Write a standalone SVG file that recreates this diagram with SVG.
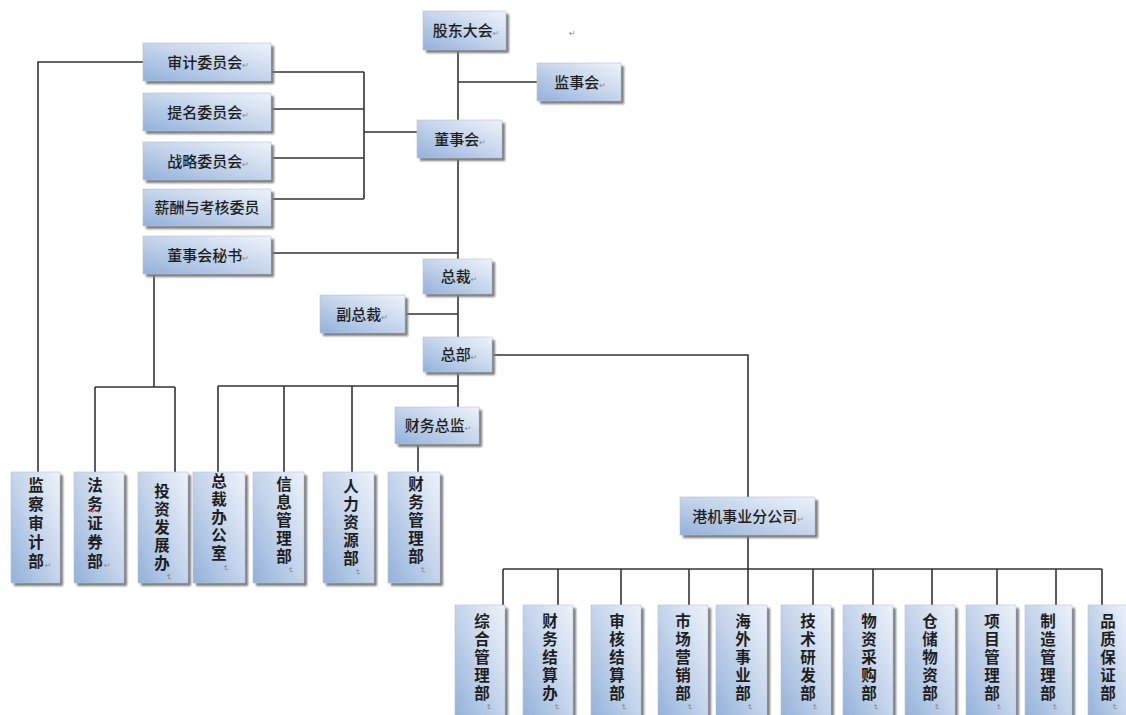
<svg xmlns="http://www.w3.org/2000/svg" width="1126" height="715" viewBox="0 0 1126 715">
<style>
.sh{fill:#7c7c7c}
.bx{fill:url(#g);stroke:#b3c4dc;stroke-width:0.6}
.t{font-family:"Noto Sans CJK SC","DejaVu Sans",sans-serif;font-size:15px;fill:#1e1e1e;font-weight:500;text-anchor:middle}
.v{font-family:"Noto Sans CJK SC","DejaVu Sans",sans-serif;font-size:15.5px;fill:#1e1e1e;font-weight:600;text-anchor:middle}
.m{font-family:"DejaVu Sans",sans-serif;font-size:8px;fill:#8a8a8a;font-weight:400}
.ln{stroke:#333;stroke-width:1.6;fill:none}
</style>
<defs>
<linearGradient id="g" x1="0" y1="1" x2="1" y2="0">
<stop offset="0" stop-color="#92b1da"/>
<stop offset="0.5" stop-color="#c4d4eb"/>
<stop offset="1" stop-color="#eef3fa"/>
</linearGradient>
<filter id="b" x="-10%" y="-10%" width="130%" height="130%"><feGaussianBlur stdDeviation="0.8"/></filter>
</defs>
<rect width="1126" height="715" fill="#fff"/>

<g id="connectors">
<path class="ln" d="M458 50V120M458 82H537M458 158V259M271 253H458M458 294V337M405 314H458M458 372V407M218 386H458M218 386V472M284 386V472M352 386V472M418 444V472"/>
<path class="ln" d="M492 355H748V497M748 535V605M503 569H1102M503 569V605M558 569V605M621 569V605M689 569V605M813 569V605M873 569V605M932 569V605M997 569V605M1056 569V605M1102 569V605"/>
<path class="ln" d="M271 72H364M271 109H364M271 158H364M271 199H364M364 72V199M364 132H417M143 62H38V472M154 274V387M95 387H175M95 387V472M175 387V472"/>
</g>

<text class="m" x="569" y="36">↵</text>

<g id="gudong"><rect class="sh" x="426" y="14" width="83" height="39" filter="url(#b)"/><rect class="bx" x="423" y="11" width="83" height="39"/><text class="t" x="466" y="36">股东大会<tspan class="m">↵</tspan></text></g>
<g id="jianshi"><rect class="sh" x="540" y="66" width="84" height="38" filter="url(#b)"/><rect class="bx" x="537" y="63" width="84" height="38"/><text class="t" x="580" y="88">监事会<tspan class="m">↵</tspan></text></g>
<g id="dongshi"><rect class="sh" x="420" y="123" width="85" height="38" filter="url(#b)"/><rect class="bx" x="417" y="120" width="85" height="38"/><text class="t" x="460" y="145">董事会<tspan class="m">↵</tspan></text></g>

<g id="shenji"><rect class="sh" x="146" y="46" width="128" height="38" filter="url(#b)"/><rect class="bx" x="143" y="43" width="128" height="38"/><text class="t" x="208" y="68">审计委员会<tspan class="m">↵</tspan></text></g>
<g id="timing"><rect class="sh" x="146" y="96" width="128" height="38" filter="url(#b)"/><rect class="bx" x="143" y="93" width="128" height="38"/><text class="t" x="208" y="118">提名委员会<tspan class="m">↵</tspan></text></g>
<g id="zhanlue"><rect class="sh" x="146" y="145" width="128" height="38" filter="url(#b)"/><rect class="bx" x="143" y="142" width="128" height="38"/><text class="t" x="208" y="167">战略委员会<tspan class="m">↵</tspan></text></g>
<g id="xinchou"><rect class="sh" x="146" y="192" width="128" height="37" filter="url(#b)"/><rect class="bx" x="143" y="189" width="128" height="37"/><text class="t" x="207" y="213">薪酬与考核委员</text></g>
<g id="mishu"><rect class="sh" x="146" y="239" width="128" height="38" filter="url(#b)"/><rect class="bx" x="143" y="236" width="128" height="38"/><text class="t" x="208" y="261">董事会秘书<tspan class="m">↵</tspan></text></g>

<g id="zongcai"><rect class="sh" x="426" y="262" width="69" height="35" filter="url(#b)"/><rect class="bx" x="423" y="259" width="69" height="35"/><text class="t" x="459" y="282">总裁<tspan class="m">↵</tspan></text></g>
<g id="fuzongcai"><rect class="sh" x="323" y="298" width="85" height="38" filter="url(#b)"/><rect class="bx" x="320" y="295" width="85" height="38"/><text class="t" x="362" y="320">副总裁<tspan class="m">↵</tspan></text></g>
<g id="zongbu"><rect class="sh" x="426" y="340" width="69" height="35" filter="url(#b)"/><rect class="bx" x="423" y="337" width="69" height="35"/><text class="t" x="459" y="360">总部<tspan class="m">↵</tspan></text></g>
<g id="caiwuzongjian"><rect class="sh" x="398" y="410" width="84" height="37" filter="url(#b)"/><rect class="bx" x="395" y="407" width="84" height="37"/><text class="t" x="438" y="431">财务总监<tspan class="m">↵</tspan></text></g>
<g id="gangji"><rect class="sh" x="683" y="500" width="135" height="38" filter="url(#b)"/><rect class="bx" x="680" y="497" width="135" height="38"/><text class="t" x="748" y="522">港机事业分公司<tspan class="m">↵</tspan></text></g>

<!-- left bottom -->
<g id="jiancha"><rect class="sh" x="14" y="475" width="49" height="111" filter="url(#b)"/><rect class="bx" x="11" y="472" width="49" height="111"/><text class="v"><tspan x="36" y="491">监</tspan><tspan x="36" y="510">察</tspan><tspan x="36" y="529">审</tspan><tspan x="36" y="548">计</tspan><tspan x="36" y="567">部</tspan></text><text class="m" x="45" y="568">↵</text></g>
<g id="fawu"><rect class="sh" x="77" y="475" width="50" height="111" filter="url(#b)"/><rect class="bx" x="74" y="472" width="50" height="111"/><text class="v"><tspan x="95" y="491">法</tspan><tspan x="95" y="510">务</tspan><tspan x="95" y="529">证</tspan><tspan x="95" y="548">券</tspan><tspan x="95" y="567">部</tspan></text><text class="m" x="104" y="568">↵</text><path d="M88 511q1.5-2 3 0t3 0t3 0t3 0" stroke="#d02020" stroke-width="1" fill="none"/></g>
<g id="touzi"><rect class="sh" x="141" y="475" width="50" height="111" filter="url(#b)"/><rect class="bx" x="138" y="472" width="50" height="111"/><text class="v"><tspan x="162" y="497">投</tspan><tspan x="162" y="515">资</tspan><tspan x="162" y="533">发</tspan><tspan x="162" y="551">展</tspan><tspan x="162" y="569">办</tspan></text><text class="m" x="166" y="574" transform="rotate(90 166 574)">↵</text></g>
<g id="zongcaiban"><rect class="sh" x="196" y="475" width="52" height="111" filter="url(#b)"/><rect class="bx" x="193" y="472" width="52" height="111"/><text class="v"><tspan x="219" y="487">总</tspan><tspan x="219" y="505">裁</tspan><tspan x="219" y="523">办</tspan><tspan x="219" y="541">公</tspan><tspan x="219" y="559">室</tspan></text><text class="m" x="223" y="565" transform="rotate(90 223 565)">↵</text></g>
<g id="xinxi"><rect class="sh" x="256" y="475" width="51" height="111" filter="url(#b)"/><rect class="bx" x="253" y="472" width="51" height="111"/><text class="v"><tspan x="284" y="490">信</tspan><tspan x="284" y="508">息</tspan><tspan x="284" y="526">管</tspan><tspan x="284" y="544">理</tspan><tspan x="284" y="562">部</tspan></text><text class="m" x="288" y="567" transform="rotate(90 288 567)">↵</text></g>
<g id="renli"><rect class="sh" x="326" y="475" width="51" height="111" filter="url(#b)"/><rect class="bx" x="323" y="472" width="51" height="111"/><text class="v"><tspan x="351" y="492">人</tspan><tspan x="351" y="510">力</tspan><tspan x="351" y="528">资</tspan><tspan x="351" y="546">源</tspan><tspan x="351" y="564">部</tspan></text><text class="m" x="355" y="569" transform="rotate(90 355 569)">↵</text></g>
<g id="caiwuguanli"><rect class="sh" x="391" y="475" width="52" height="111" filter="url(#b)"/><rect class="bx" x="388" y="472" width="52" height="111"/><text class="v"><tspan x="416" y="490">财</tspan><tspan x="416" y="508">务</tspan><tspan x="416" y="526">管</tspan><tspan x="416" y="544">理</tspan><tspan x="416" y="562">部</tspan></text><text class="m" x="420" y="567" transform="rotate(90 420 567)">↵</text></g>

<!-- right bottom -->
<g id="zonghe"><rect class="sh" x="458" y="608" width="50" height="115" filter="url(#b)"/><rect class="bx" x="455" y="605" width="50" height="115"/><text class="v"><tspan x="482" y="627">综</tspan><tspan x="482" y="645">合</tspan><tspan x="482" y="663">管</tspan><tspan x="482" y="681">理</tspan><tspan x="482" y="699">部</tspan></text><text class="m" x="486" y="704" transform="rotate(90 486 704)">↵</text></g>
<g id="caiwujiesuan"><rect class="sh" x="526" y="608" width="50" height="115" filter="url(#b)"/><rect class="bx" x="523" y="605" width="50" height="115"/><text class="v"><tspan x="550" y="627">财</tspan><tspan x="550" y="645">务</tspan><tspan x="550" y="663">结</tspan><tspan x="550" y="681">算</tspan><tspan x="550" y="699">办</tspan></text><text class="m" x="554" y="704" transform="rotate(90 554 704)">↵</text></g>
<g id="shenhe"><rect class="sh" x="594" y="608" width="50" height="115" filter="url(#b)"/><rect class="bx" x="591" y="605" width="50" height="115"/><text class="v"><tspan x="617" y="627">审</tspan><tspan x="617" y="645">核</tspan><tspan x="617" y="663">结</tspan><tspan x="617" y="681">算</tspan><tspan x="617" y="699">部</tspan></text><text class="m" x="621" y="704" transform="rotate(90 621 704)">↵</text></g>
<g id="shichang"><rect class="sh" x="661" y="608" width="50" height="115" filter="url(#b)"/><rect class="bx" x="658" y="605" width="50" height="115"/><text class="v"><tspan x="683" y="627">市</tspan><tspan x="683" y="645">场</tspan><tspan x="683" y="663">营</tspan><tspan x="683" y="681">销</tspan><tspan x="683" y="699">部</tspan></text><text class="m" x="687" y="704" transform="rotate(90 687 704)">↵</text></g>
<g id="haiwai"><rect class="sh" x="719" y="608" width="51" height="115" filter="url(#b)"/><rect class="bx" x="716" y="605" width="51" height="115"/><text class="v"><tspan x="743" y="627">海</tspan><tspan x="743" y="645">外</tspan><tspan x="743" y="663">事</tspan><tspan x="743" y="681">业</tspan><tspan x="743" y="699">部</tspan></text><text class="m" x="747" y="704" transform="rotate(90 747 704)">↵</text></g>
<g id="jishu"><rect class="sh" x="784" y="608" width="50" height="115" filter="url(#b)"/><rect class="bx" x="781" y="605" width="50" height="115"/><text class="v"><tspan x="808" y="627">技</tspan><tspan x="808" y="645">术</tspan><tspan x="808" y="663">研</tspan><tspan x="808" y="681">发</tspan><tspan x="808" y="699">部</tspan></text><text class="m" x="812" y="704" transform="rotate(90 812 704)">↵</text></g>
<g id="wuzi"><rect class="sh" x="846" y="608" width="50" height="115" filter="url(#b)"/><rect class="bx" x="843" y="605" width="50" height="115"/><text class="v"><tspan x="869" y="627">物</tspan><tspan x="869" y="645">资</tspan><tspan x="869" y="663">采</tspan><tspan x="869" y="681">购</tspan><tspan x="869" y="699">部</tspan></text><text class="m" x="873" y="704" transform="rotate(90 873 704)">↵</text></g>
<g id="cangchu"><rect class="sh" x="908" y="608" width="50" height="115" filter="url(#b)"/><rect class="bx" x="905" y="605" width="50" height="115"/><text class="v"><tspan x="930" y="627">仓</tspan><tspan x="930" y="645">储</tspan><tspan x="930" y="663">物</tspan><tspan x="930" y="681">资</tspan><tspan x="930" y="699">部</tspan></text><text class="m" x="934" y="704" transform="rotate(90 934 704)">↵</text></g>
<g id="xiangmu"><rect class="sh" x="969" y="608" width="50" height="115" filter="url(#b)"/><rect class="bx" x="966" y="605" width="50" height="115"/><text class="v"><tspan x="992" y="627">项</tspan><tspan x="992" y="645">目</tspan><tspan x="992" y="663">管</tspan><tspan x="992" y="681">理</tspan><tspan x="992" y="699">部</tspan></text><text class="m" x="996" y="704" transform="rotate(90 996 704)">↵</text></g>
<g id="zhizao"><rect class="sh" x="1028" y="608" width="47" height="115" filter="url(#b)"/><rect class="bx" x="1025" y="605" width="47" height="115"/><text class="v"><tspan x="1048" y="627">制</tspan><tspan x="1048" y="645">造</tspan><tspan x="1048" y="663">管</tspan><tspan x="1048" y="681">理</tspan><tspan x="1048" y="699">部</tspan></text><text class="m" x="1052" y="704" transform="rotate(90 1052 704)">↵</text></g>
<g id="pinzhi"><rect class="sh" x="1091" y="608" width="40" height="115" filter="url(#b)"/><rect class="bx" x="1088" y="605" width="40" height="115"/><text class="v"><tspan x="1108" y="627">品</tspan><tspan x="1108" y="645">质</tspan><tspan x="1108" y="663">保</tspan><tspan x="1108" y="681">证</tspan><tspan x="1108" y="699">部</tspan></text><text class="m" x="1112" y="704" transform="rotate(90 1112 704)">↵</text></g>
</svg>
